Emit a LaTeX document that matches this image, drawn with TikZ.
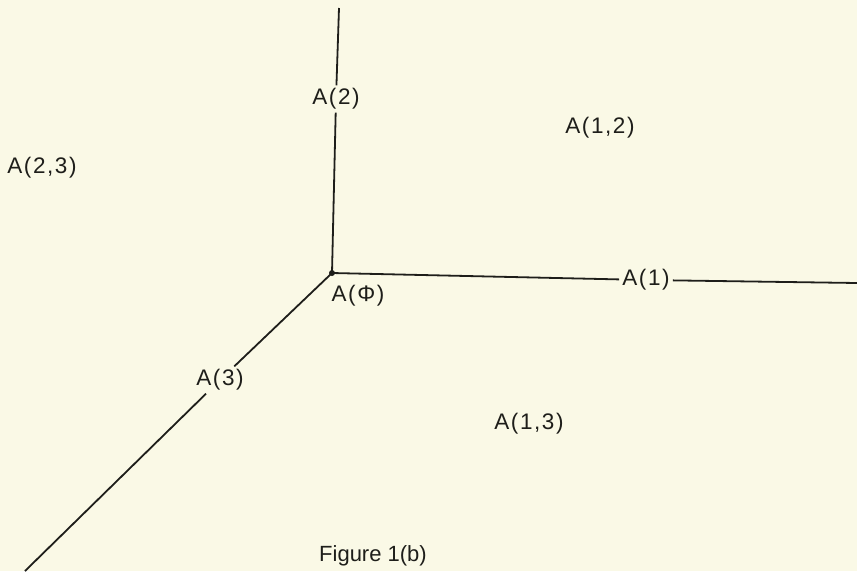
\documentclass[tikz,border=0pt]{standalone}
\usepackage{fontspec}
\setmainfont{Liberation Sans}
\newfontfamily\labfont[LetterSpace=7]{Liberation Sans}
\definecolor{paper}{RGB}{250,249,230}
\definecolor{ink}{RGB}{30,30,26}
\begin{document}
\begin{tikzpicture}[x=1pt,y=-1pt,
  lab/.style={text=ink,font=\labfont\fontsize{22.5}{26}\selectfont,inner sep=3pt},
  edge/.style={draw=ink,line width=1.8pt}]
\fill[paper] (0,0) rectangle (857,571);
\useasboundingbox (0,0) rectangle (857,571);
\coordinate (O) at (332,273);
\coordinate (top) at (339,8);
\coordinate (right) at (857,283);
\coordinate (bl) at (25,571);
\node[lab] (A2) at (336,99) {A(2)};
\node[lab] (A1) at (646,280) {A(1)};
\node[lab] (A3) at (220,380) {A(3)};
\node[lab] (Aphi) at (358,296) {A(Φ)};
\node[lab] (A23) at (42,168) {A(2,3)};
\node[lab] (A12) at (600,128) {A(1,2)};
\node[lab] (A13) at (529,424) {A(1,3)};
\node[text=ink,font=\fontsize{22}{25}\selectfont] (cap) at (373,556) {Figure 1(b)};
\draw[edge] (O) -- (A2) -- (top);
\draw[edge] (O) -- (A1) -- (right);
\draw[edge] (O) -- (A3) -- (bl);
\fill[ink] (O) circle (3);
\end{tikzpicture}
\end{document}
